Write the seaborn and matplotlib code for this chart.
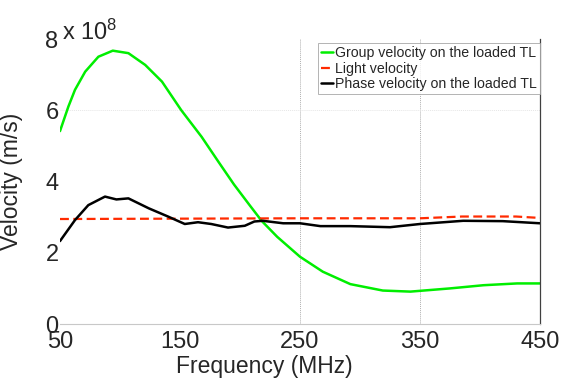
import matplotlib
matplotlib.use("Agg")
import matplotlib.pyplot as plt
import seaborn as sns
import pandas as pd

# ---- data (velocity in units of 1e8 m/s) ----
freq_group = [50, 57, 62.5, 71, 82, 94, 107, 121, 135, 151, 168, 182, 195, 208,
              218, 231, 250, 269, 292, 319, 342, 375, 403, 431, 450]
v_group = [5.42, 6.11, 6.58, 7.09, 7.51, 7.68, 7.61, 7.28, 6.81, 6.01, 5.26, 4.56,
           3.92, 3.34, 2.90, 2.45, 1.89, 1.47, 1.12, 0.94, 0.91, 1.00, 1.09, 1.14, 1.14]

freq_light = [50, 150, 250, 350, 385, 430, 450]
v_light = [2.95, 2.96, 2.97, 2.97, 3.02, 3.02, 2.98]

freq_phase = [50, 62.5, 73.6, 87.5, 97, 107, 124, 140, 154, 165, 176, 190, 204,
              212, 219, 236, 250, 267, 292, 325, 350, 386, 419, 450]
v_phase = [2.33, 2.92, 3.34, 3.58, 3.50, 3.53, 3.25, 3.02, 2.81, 2.86, 2.81, 2.71,
           2.76, 2.88, 2.90, 2.83, 2.83, 2.75, 2.75, 2.72, 2.81, 2.90, 2.89, 2.83]

labels = ["Group velocity on the loaded TL", "Light velocity",
          "Phase velocity on the loaded TL"]
x_ticks = [50, 150, 250, 350, 450]
y_ticks = [0, 2, 4, 6, 8]
grid_x = [250, 350]
grid_y = [6]

sns.set_theme(style="white")
plt.rcParams["font.family"] = ["Liberation Sans", "DejaVu Sans"]
plt.rcParams["mathtext.fontset"] = "custom"
plt.rcParams["mathtext.rm"] = "Liberation Sans"
plt.rcParams["mathtext.it"] = "Liberation Sans"

fig = plt.figure(figsize=(5.87, 3.81), dpi=100)
ax = fig.add_axes([0.1022, 0.1496, 0.8177, 0.7473])

for gx in grid_x:
    ax.axvline(gx, color="#b0b0b0", lw=0.7, ls=(0, (1, 1)), zorder=0)
for gy in grid_y:
    ax.axhline(gy, color="#e6e6e6", lw=0.7, ls=(0, (1, 1)), zorder=0)

df_g = pd.DataFrame({"f": freq_group, "v": v_group})
df_l = pd.DataFrame({"f": freq_light, "v": v_light})
df_p = pd.DataFrame({"f": freq_phase, "v": v_phase})

sns.lineplot(data=df_g, x="f", y="v", ax=ax, color="#00ee00", lw=1.8, label=labels[0])
sns.lineplot(data=df_l, x="f", y="v", ax=ax, color="#ff2a00", lw=1.6,
             label=labels[1], dashes=False, linestyle=(0, (4, 2)))
sns.lineplot(data=df_p, x="f", y="v", ax=ax, color="black", lw=1.8, label=labels[2])

ax.set_xlim(50, 450)
ax.set_ylim(0, 8)
ax.set_xticks(x_ticks)
ax.set_yticks(y_ticks)
ax.tick_params(axis="both", length=0, labelsize=17)
ax.tick_params(axis="x", pad=5)
ax.tick_params(axis="y", pad=1)

ax.set_xlabel("Frequency (MHz)", fontsize=16.5)
ax.set_ylabel("Velocity (m/s)", fontsize=16.5)
ax.xaxis.set_label_coords(0.425, -0.11)
ax.yaxis.set_label_coords(-0.077, 0.5)

for s in ["left", "top"]:
    ax.spines[s].set_visible(False)
ax.spines["bottom"].set_color("#c8c8c8")
ax.spines["bottom"].set_linewidth(0.8)
ax.spines["right"].set_color("#404040")
ax.spines["right"].set_linewidth(0.9)

fig.text(62 / 587, 1 - 40 / 381, r"x 10$^{8}$", fontsize=17, va="baseline", ha="left")

leg = ax.legend(loc="upper right", bbox_to_anchor=(1.0, 0.987), borderaxespad=0,
                fontsize=10.2, handlelength=0.85, handletextpad=0.15,
                labelspacing=0.12, borderpad=0.2, fancybox=False, frameon=True)
leg.get_frame().set_edgecolor("#a0a0a0")
leg.get_frame().set_linewidth(0.7)

fig.savefig("out.png", dpi=100)
